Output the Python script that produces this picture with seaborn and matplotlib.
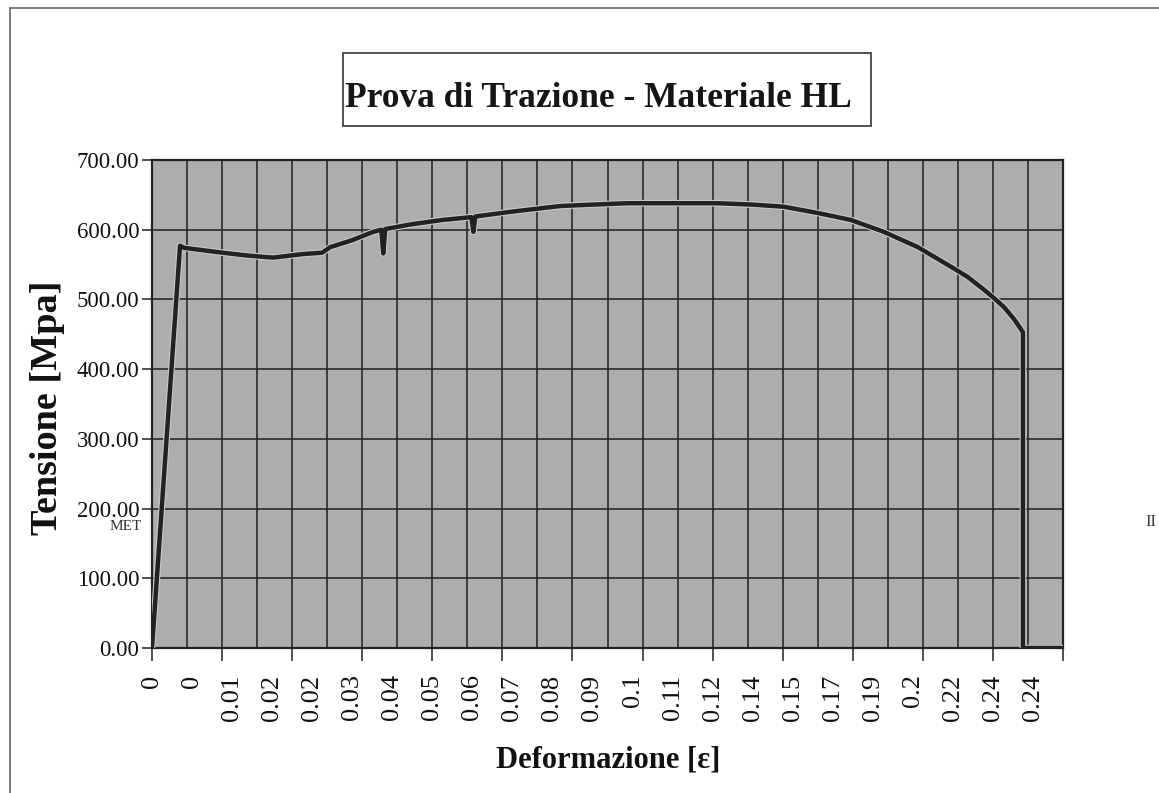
import numpy as np
import pandas as pd
import matplotlib
matplotlib.use("Agg")
import matplotlib.pyplot as plt
import matplotlib.patheffects as pe
from matplotlib.patches import Rectangle
from matplotlib.lines import Line2D
import seaborn as sns

# Tensile test record: acquisition sample number vs. engineering stress [MPa]
sample = [0, 28, 32, 65, 95, 121, 150, 170, 178, 200, 221, 229, 231, 233,
          260, 290, 319, 321, 323, 360, 408, 440, 475, 520, 565, 600, 631,
          665, 698, 731, 765, 798, 815, 831, 841, 851, 861, 870, 870, 910]
stress = [0, 577, 574, 568, 563, 560, 565, 567, 575, 585, 597, 600, 566, 601,
          608, 614, 618, 597, 619, 626, 634, 636, 638, 638, 638, 636, 633,
          624, 614, 597, 575, 547, 532, 514, 502, 489, 472, 453, 0, 0]

# Strain values printed on the category axis (one every 40 samples)
strain_labels = ["0", "0", "0.01", "0.02", "0.02", "0.03", "0.04", "0.05",
                 "0.06", "0.07", "0.08", "0.09", "0.1", "0.11", "0.12", "0.14",
                 "0.15", "0.17", "0.19", "0.2", "0.22", "0.24", "0.24"]
stress_ticks = [0, 100, 200, 300, 400, 500, 600, 700]

df = pd.DataFrame({"campione": sample, "tensione": stress})

sns.set_style("white")
plt.rcParams["font.family"] = ["Liberation Serif", "DejaVu Serif"]

W, H = 1159, 793
fig = plt.figure(figsize=(W / 100, H / 100), dpi=100)
ax = fig.add_axes([152 / W, 1 - 648 / H, 911 / W, 488 / H])
ax.set_facecolor("#adadad")

sns.lineplot(data=df, x="campione", y="tensione", ax=ax, sort=False,
             estimator=None, color="#222222", linewidth=3.2, zorder=5,
             path_effects=[pe.Stroke(linewidth=4.8, foreground="#c8c8c8"),
                           pe.Normal()])

ax.set_xlim(0, 910)
ax.set_ylim(0, 700)

# vertical grid every 35 samples, tick marks every 70
ax.set_xticks(np.arange(0, 911, 70))
ax.set_xticks(np.arange(35, 911, 70), minor=True)
ax.tick_params(axis="x", which="major", length=9, width=1.2, color="#333333",
               direction="out", bottom=True, labelbottom=False)
ax.tick_params(axis="x", which="minor", length=0)
ax.grid(True, which="both", axis="x", color="#2a2a2a", linewidth=1.2)

ax.set_yticks(stress_ticks)
ax.set_yticklabels([f"{v:.2f}" for v in stress_ticks])
ax.tick_params(axis="y", length=7, width=1.2, color="#333333", direction="out",
               left=True, pad=2, labelsize=16.5, labelcolor="#111111")
ax.grid(True, which="major", axis="y", color="#2a2a2a", linewidth=1.2)

for s in ax.spines.values():
    s.set_color("#222222")
    s.set_linewidth(1.6)

# strain labels on a separate axis so they can sit between the tick marks
sec = ax.secondary_xaxis("bottom")
sec.set_xticks(np.arange(len(strain_labels)) * 40, labels=strain_labels)
sec.tick_params(length=0, pad=19, labelsize=19, labelrotation=90,
                labelcolor="#111111")
sec.spines["bottom"].set_visible(False)

ax.set_xlabel("")
ax.set_ylabel("")
fig.text(48 / W, 1 - 408 / H, "Tensione [Mpa]", rotation=90,
         ha="center", va="center", fontsize=27.5, fontweight="bold",
         color="#111111")
fig.text(608 / W, 1 - 760 / H, "Deformazione [ε]", ha="center",
         va="center", fontsize=22, fontweight="bold", color="#111111")

# title box
fig.add_artist(Rectangle((343 / W, 1 - 126 / H), 528 / W, 73 / H,
                         transform=fig.transFigure, fill=False,
                         edgecolor="#444444", linewidth=1.3))
fig.text(598 / W, 1 - 107 / H, "Prova di Trazione - Materiale HL",
         ha="center", va="baseline", fontsize=25.5, fontweight="bold",
         color="#151515")

# outer sheet frame
fig.add_artist(Line2D([10 / W, 10 / W], [0, 1 - 8 / H],
                      transform=fig.transFigure, color="#666666", lw=1.2))
fig.add_artist(Line2D([10 / W, 1], [1 - 8 / H, 1 - 8 / H],
                      transform=fig.transFigure, color="#666666", lw=1.2))

fig.text(110 / W, 1 - 520 / H, "MET", ha="left", va="top", fontsize=11,
         color="#333333")
fig.text(1151 / W, 1 - 522 / H, "II", ha="center", va="center", fontsize=12,
         color="#333333")

fig.savefig("out.png", dpi=100)
